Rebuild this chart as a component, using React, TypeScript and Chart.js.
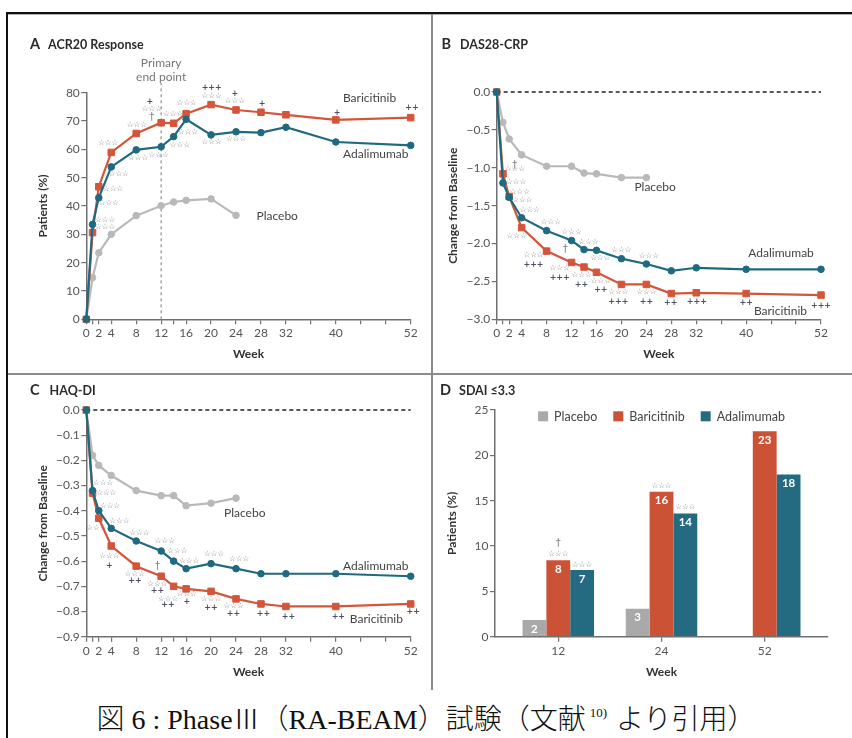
import React, { useEffect, useRef } from "react";
import { Chart, registerables } from "chart.js";
Chart.register(...registerables);

// ---------- data ----------
const WEEKS = [0, 1, 2, 4, 8, 12, 14, 16, 20, 24, 28, 32, 40, 52];
const PLACEBO_WEEKS = [0, 1, 2, 4, 8, 12, 14, 16, 20, 24];
const WEEK_TICKS = [0, 1, 2, 4, 8, 12, 14, 16, 20, 24, 28, 32, 36, 40, 44, 48, 52];
const WEEK_LABELS = [0, 2, 4, 8, 12, 16, 20, 24, 28, 32, 40, 52];

const acrBaricitinib = [0, 30.6, 46.8, 58.9, 65.6, 69.4, 69.2, 72.6, 75.8, 73.9, 73.1, 72.2, 70.4, 71.2];
const acrAdalimumab = [0, 33.5, 42.9, 53.8, 59.8, 60.9, 64.5, 70.6, 65.1, 66.2, 65.9, 67.8, 62.6, 61.4];
const acrPlacebo = [0, 14.7, 23.5, 30.0, 36.6, 40.1, 41.4, 42.0, 42.5, 36.7];
const acrTicks = [0, 10, 20, 30, 40, 50, 60, 70, 80];

const dasBaricitinib = [0, -1.08, -1.38, -1.79, -2.1, -2.25, -2.31, -2.38, -2.54, -2.54, -2.66, -2.65, -2.66, -2.68];
const dasAdalimumab = [0, -1.2, -1.39, -1.66, -1.83, -1.96, -2.08, -2.09, -2.2, -2.27, -2.36, -2.32, -2.34, -2.34];
const dasPlacebo = [0, -0.4, -0.62, -0.83, -0.98, -0.98, -1.07, -1.08, -1.13, -1.13];
const dasTicks = [0, -0.5, -1, -1.5, -2, -2.5, -3];

const haqBaricitinib = [0, -0.33, -0.43, -0.54, -0.62, -0.66, -0.7, -0.71, -0.72, -0.75, -0.77, -0.78, -0.78, -0.77];
const haqAdalimumab = [0, -0.32, -0.4, -0.47, -0.52, -0.56, -0.6, -0.63, -0.61, -0.63, -0.65, -0.65, -0.65, -0.66];
const haqPlacebo = [0, -0.18, -0.22, -0.26, -0.32, -0.34, -0.34, -0.38, -0.37, -0.35];
const haqTicks = [0, -0.1, -0.2, -0.3, -0.4, -0.5, -0.6, -0.7, -0.8, -0.9];

const sdaiWeeks = ["12", "24", "52"];
const sdaiPlacebo = [1.84, 3.09, null];
const sdaiBaricitinib = [8.42, 15.99, 22.65];
const sdaiAdalimumab = [7.35, 13.6, 17.9];
const sdaiPlaceboLabels = ["2", "3", ""];
const sdaiBaricitinibLabels = ["8", "16", "23"];
const sdaiAdalimumabLabels = ["7", "14", "18"];
const sdaiTicks = [0, 5, 10, 15, 20, 25];

// annotations: [week, value, text, kind]
type Note = [number, number, string, string];
const notesA: Note[] = [
  [3.0, 35.0, "***", "s"], [3.0, 32.6, "***", "s"], [3.6, 41.0, "***", "s"], [4.3, 46.0, "***", "s"],
  [5.2, 51.3, "***", "s"], [3.5, 62.2, "***", "s"], [8.3, 57.0, "***", "s"], [8.1, 68.6, "***", "s"],
  [11.6, 58.0, "***", "s"], [10.2, 76.7, "+", "p"], [10.5, 74.2, "***", "s"], [10.5, 71.4, "†", "d"],
  [13.9, 72.5, "***", "s"], [15.0, 61.5, "***", "s"], [16.1, 76.4, "***", "s"], [16.3, 66.2, "***", "s"],
  [20.1, 81.7, "+++", "p"], [20.1, 78.8, "***", "s"], [20.1, 62.6, "***", "s"], [23.8, 79.5, "+", "p"],
  [23.8, 77.0, "***", "s"], [24.0, 63.7, "***", "s"], [28.2, 76.0, "+", "p"], [40.2, 72.8, "+", "p"],
  [52.2, 74.6, "++", "p"],
  [45.4, 78.1, "Baricitinib", "l"], [46.4, 58.4, "Adalimumab", "l"], [30.6, 36.5, "Placebo", "l"],
  [12, 90.5, "Primary", "t"], [12, 85.5, "end point", "t"],
];
const notesB: Note[] = [
  [2.9, -1.02, "***", "s"], [2.9, -0.97, "†", "d"], [3.1, -1.19, "***", "s"], [3.7, -1.32, "***", "s"],
  [4.1, -1.43, "***", "s"], [5.3, -1.56, "***", "s"], [8.7, -1.71, "***", "s"], [3.2, -1.9, "***", "s"],
  [12.0, -1.85, "***", "s"], [5.9, -2.15, "***", "s"], [5.9, -2.28, "+++", "p"], [11.0, -2.08, "†", "d"],
  [14.7, -1.98, "***", "s"], [16.6, -2.19, "***", "s"], [10.1, -2.33, "***", "s"], [10.1, -2.46, "+++", "p"],
  [13.6, -2.42, "***", "s"], [13.6, -2.55, "++", "p"], [16.7, -2.49, "***", "s"], [16.7, -2.61, "++", "p"],
  [20.0, -2.08, "***", "s"], [19.5, -2.64, "***", "s"], [19.5, -2.77, "+++", "p"], [24.4, -2.16, "***", "s"],
  [24.0, -2.64, "***", "s"], [24.0, -2.77, "++", "p"], [27.9, -2.78, "++", "p"], [32.1, -2.77, "+++", "p"],
  [40.0, -2.78, "++", "p"], [52.0, -2.82, "+++", "p"],
  [45.6, -2.12, "Adalimumab", "l"], [45.5, -2.89, "Baricitinib", "l"], [25.4, -1.26, "Placebo", "l"],
];
const notesC: Note[] = [
  [2.7, -0.29, "***", "s"], [3.2, -0.33, "***", "s"], [3.8, -0.38, "***", "s"], [5.3, -0.44, "***", "s"],
  [1.6, -0.47, "***", "s"], [8.5, -0.49, "***", "s"], [3.7, -0.58, "***", "s"], [3.7, -0.62, "+", "p"],
  [12.6, -0.52, "***", "s"], [14.6, -0.56, "***", "s"], [16.5, -0.6, "***", "s"], [11.4, -0.62, "†", "d"],
  [7.8, -0.65, "***", "s"], [7.8, -0.68, "++", "p"], [11.4, -0.69, "***", "s"], [11.4, -0.72, "++", "p"],
  [13.1, -0.75, "***", "s"], [13.1, -0.775, "++", "p"], [16.1, -0.73, "***", "s"], [16.1, -0.76, "+", "p"],
  [20.5, -0.57, "***", "s"], [20.0, -0.75, "***", "s"], [20.0, -0.785, "++", "p"], [24.5, -0.59, "***", "s"],
  [23.6, -0.78, "***", "s"], [23.6, -0.81, "++", "p"], [28.4, -0.81, "++", "p"], [32.4, -0.82, "++", "p"],
  [40.4, -0.82, "++", "p"], [52.4, -0.8, "++", "p"],
  [46.4, -0.62, "Adalimumab", "l"], [46.5, -0.83, "Baricitinib", "l"], [25.4, -0.41, "Placebo", "l"],
];
// [datasetIndex, categoryIndex, value, text, kind]
const notesD: [number, number, number, string, string][] = [
  [1, 0, 10.3, "†", "d"], [1, 0, 9.1, "***", "s"], [2, 0, 7.9, "***", "s"],
  [1, 1, 16.6, "***", "s"], [2, 1, 14.3, "***", "s"],
];

// ---------- styles ----------
const FONT = "Lato";
const AXIS = "#707070";
const TICK_TXT = "#555555";
const RED = "#d4553a";
const TEAL = "#1f6a80";
const GREY = "#b9b9b9";
const BAR_GREY = "#a9a9a9";
const BAR_RED = "#cc5236";
const BAR_TEAL = "#246b82";

const NOTE_STYLE: Record<string, { font: string; color: string }> = {
  s: { font: '7.5px "DejaVu Sans"', color: "#767676" },
  p: { font: 'bold 8px "DejaVu Sans"', color: "#4b5163" },
  d: { font: '10px "DejaVu Sans"', color: "#7e7e7e" },
  l: { font: "12px Lato", color: "#444444" },
  t: { font: "12px Lato", color: "#777777" },
};

function drawNote(ctx: CanvasRenderingContext2D, x: number, y: number, text: string, kind: string) {
  const st = NOTE_STYLE[kind];
  ctx.font = st.font;
  ctx.fillStyle = st.color;
  ctx.textAlign = "center";
  ctx.textBaseline = "middle";
  ctx.fillText(kind === "s" ? text.replace(/\*/g, "☆") : text, x, y);
}

function notesPlugin(notes: Note[]) {
  return {
    id: "notes",
    afterDatasetsDraw(chart: any) {
      const { ctx, scales } = chart;
      ctx.save();
      for (const [wx, vy, text, kind] of notes) {
        drawNote(ctx, scales.x.getPixelForValue(wx), scales.y.getPixelForValue(vy), text, kind);
      }
      ctx.restore();
    },
  };
}

function pts(xs: number[], ys: (number | null)[]) {
  return xs.map((x, i) => ({ x, y: ys[i] }));
}

type Area = { top: number; right: number; yW: number; xH: number; yTitlePad: number; xTitlePad: number };

function axisCommon() {
  return {
    grid: { drawOnChartArea: false, drawTicks: true, tickLength: 5, color: AXIS, lineWidth: 1.2, offset: false },
    border: { display: true, color: AXIS, width: 1.5 },
  };
}

function lineConfig(s: {
  bari: number[]; ada: number[]; plac: number[];
  yMin: number; yMax: number; yTicks: number[]; yFmt: (v: number) => string; yTitle: string;
  notes: Note[]; guide: { x: number; y: number }[]; guideColor: string; guideDash: number[]; area: Area;
}) {
  const datasets: any[] = [
    { label: "Adalimumab", data: pts(WEEKS, s.ada), borderColor: TEAL, backgroundColor: TEAL, pointStyle: "circle", pointRadius: 3.3, pointBorderWidth: 1, borderWidth: 2.2, clip: false },
    { label: "Baricitinib", data: pts(WEEKS, s.bari), borderColor: RED, backgroundColor: RED, pointStyle: "rect", pointRadius: 4.6, pointBorderWidth: 1, borderWidth: 2.2, clip: false },
    { label: "Placebo", data: pts(PLACEBO_WEEKS, s.plac), borderColor: GREY, backgroundColor: GREY, pointStyle: "circle", pointRadius: 3.3, pointBorderWidth: 1, borderWidth: 2.2, clip: false },
    { label: "guide", data: s.guide, borderColor: s.guideColor, borderDash: s.guideDash, pointRadius: 0, borderWidth: 1.3, clip: false },
  ];
  const a = s.area;
  return {
    type: "line" as const,
    data: { datasets },
    options: {
      responsive: false,
      animation: false as const,
      events: [],
      layout: { padding: { left: 0, top: a.top, right: a.right, bottom: 0 } },
      plugins: { legend: { display: false }, tooltip: { enabled: false }, title: { display: false } },
      scales: {
        x: {
          type: "linear" as const, min: 0, max: 52, bounds: "data" as const, offset: false,
          afterBuildTicks: (sc: any) => { sc.ticks = WEEK_TICKS.map((v) => ({ value: v })); },
          afterFit: (sc: any) => { sc.height = a.xH; },
          ticks: { autoSkip: false, maxRotation: 0, padding: 2, color: TICK_TXT, font: { family: FONT, size: 12 },
            callback: (v: any) => (WEEK_LABELS.includes(v) ? String(v) : "") },
          ...axisCommon(),
          title: { display: true, text: "Week", color: "#333", font: { family: FONT, size: 12, weight: "bold" as const }, padding: { top: 0, bottom: a.xTitlePad } },
        },
        y: {
          type: "linear" as const, min: s.yMin, max: s.yMax, bounds: "data" as const,
          afterBuildTicks: (sc: any) => { sc.ticks = s.yTicks.map((v) => ({ value: v })); },
          afterFit: (sc: any) => { sc.width = a.yW; },
          ticks: { autoSkip: false, padding: 1.5, color: TICK_TXT, font: { family: FONT, size: 12 }, callback: (v: any) => s.yFmt(v) },
          ...axisCommon(),
          title: { display: true, text: s.yTitle, color: "#333", font: { family: FONT, size: 12, weight: "bold" as const }, padding: { top: a.yTitlePad, bottom: 0 } },
        },
      },
    },
    plugins: [notesPlugin(s.notes)],
  };
}

const fmtNeg = (d: number) => (v: number) => (v < 0 ? "\u2212" + Math.abs(v).toFixed(d) : v.toFixed(d));

function barConfig(area: Area) {
  const labelsByDs = [sdaiPlaceboLabels, sdaiBaricitinibLabels, sdaiAdalimumabLabels];
  const barLabels = {
    id: "barLabels",
    afterDatasetsDraw(chart: any) {
      const { ctx, scales } = chart;
      ctx.save();
      labelsByDs.forEach((labels, di) => {
        const meta = chart.getDatasetMeta(di);
        meta.data.forEach((el: any, i: number) => {
          if (!labels[i]) return;
          ctx.font = "bold 11.5px Lato";
          ctx.fillStyle = "#ffffff";
          ctx.textAlign = "center";
          ctx.textBaseline = "middle";
          ctx.fillText(labels[i], el.x, el.y + 9);
        });
      });
      for (const [di, i, v, text, kind] of notesD) {
        const el = chart.getDatasetMeta(di).data[i];
        drawNote(ctx, el.x, scales.y.getPixelForValue(v), text, kind);
      }
      ctx.restore();
    },
  };
  const legendPlugin = {
    id: "insideLegend",
    afterDraw(chart: any) {
      const { ctx, chartArea } = chart;
      const items = chart.data.datasets.map((d: any) => ({ label: d.label, color: d.backgroundColor }));
      ctx.save();
      ctx.font = "12.5px Lato";
      const box = 10, gap = 6, spacing = 16;
      const widths = items.map((it: any) => box + gap + ctx.measureText(it.label).width);
      const total = widths.reduce((p: number, c: number) => p + c, 0) + spacing * (items.length - 1);
      let x = (chartArea.left + chartArea.right) / 2 - total / 2;
      const y = chartArea.top + 6.3;
      items.forEach((it: any, i: number) => {
        ctx.fillStyle = it.color;
        ctx.fillRect(x, y - box / 2, box, box);
        ctx.fillStyle = "#444";
        ctx.textAlign = "left";
        ctx.textBaseline = "middle";
        ctx.fillText(it.label, x + box + gap, y + 0.5);
        x += widths[i] + spacing;
      });
      ctx.restore();
    },
  };
  return {
    type: "bar" as const,
    data: {
      datasets: [
        { label: "Placebo", data: pts([0, 1, 2], sdaiPlacebo), backgroundColor: BAR_GREY },
        { label: "Baricitinib", data: pts([0, 1, 2], sdaiBaricitinib), backgroundColor: BAR_RED },
        { label: "Adalimumab", data: pts([0, 1, 2], sdaiAdalimumab), backgroundColor: BAR_TEAL },
      ],
    },
    options: {
      responsive: false,
      animation: false as const,
      events: [],
      layout: { padding: { left: 0, top: area.top, right: area.right, bottom: 0 } },
      datasets: { bar: { categoryPercentage: 0.693, barPercentage: 1 } },
      plugins: { legend: { display: false }, tooltip: { enabled: false }, title: { display: false } },
      scales: {
        x: {
          type: "linear" as const, min: -0.613, max: 2.613, bounds: "data" as const, offset: false,
          afterBuildTicks: (sc: any) => { sc.ticks = sdaiWeeks.map((_, i) => ({ value: i })); },
          afterFit: (sc: any) => { sc.height = area.xH; },
          ticks: { autoSkip: false, maxRotation: 0, padding: 2, color: TICK_TXT, font: { family: FONT, size: 12 },
            callback: (v: any) => sdaiWeeks[v] ?? "" },
          ...axisCommon(),
          title: { display: true, text: "Week", color: "#333", font: { family: FONT, size: 12, weight: "bold" as const }, padding: { top: 0, bottom: area.xTitlePad } },
        },
        y: {
          type: "linear" as const, min: 0, max: 25, bounds: "data" as const,
          afterBuildTicks: (sc: any) => { sc.ticks = sdaiTicks.map((v) => ({ value: v })); },
          afterFit: (sc: any) => { sc.width = area.yW; },
          ticks: { autoSkip: false, padding: 1.5, color: TICK_TXT, font: { family: FONT, size: 12 }, callback: (v: any) => String(v) },
          ...axisCommon(),
          title: { display: true, text: "Patients (%)", color: "#333", font: { family: FONT, size: 12, weight: "bold" as const }, padding: { top: area.yTitlePad, bottom: 0 } },
        },
      },
    },
    plugins: [barLabels, legendPlugin],
  };
}

const abs = (left: number, top: number, extra: React.CSSProperties = {}): React.CSSProperties => ({ position: "absolute", left, top, ...extra });

function PanelTitle({ left, top, letter, text, gap }: { left: number; top: number; letter: string; text: string; gap: number }) {
  return (
    <div style={abs(left, top, { fontFamily: FONT, fontWeight: 700, fontSize: 12.5, lineHeight: "16px", color: "#2b2b2b", whiteSpace: "nowrap" })}>
      <span style={{ fontSize: 14.5, marginRight: gap }}>{letter}</span>
      {text}
    </div>
  );
}

export default function App() {
  const aRef = useRef<HTMLCanvasElement>(null);
  const bRef = useRef<HTMLCanvasElement>(null);
  const cRef = useRef<HTMLCanvasElement>(null);
  const dRef = useRef<HTMLCanvasElement>(null);

  useEffect(() => {
    const charts: Chart[] = [];
    charts.push(new Chart(aRef.current!, lineConfig({
      bari: acrBaricitinib, ada: acrAdalimumab, plac: acrPlacebo,
      yMin: 0, yMax: 80, yTicks: acrTicks, yFmt: (v) => String(v), yTitle: "Patients (%)",
      notes: notesA, guide: [{ x: 12, y: 0 }, { x: 12, y: 83.4 }], guideColor: "#9a9a9a", guideDash: [3, 3],
      area: { top: 72.7, right: 13.3, yW: 72.3, xH: 50.7, yTitlePad: 21.5, xTitlePad: 8.8 },
    }) as any));
    charts.push(new Chart(bRef.current!, lineConfig({
      bari: dasBaricitinib, ada: dasAdalimumab, plac: dasPlacebo,
      yMin: -3, yMax: 0, yTicks: dasTicks, yFmt: fmtNeg(1), yTitle: "Change from Baseline",
      notes: notesB, guide: [{ x: 0, y: 0 }, { x: 52, y: 0 }], guideColor: "#222", guideDash: [4, 3],
      area: { top: 72, right: 27, yW: 60.7, xH: 50.7, yTitlePad: 9.8, xTitlePad: 8.8 },
    }) as any));
    charts.push(new Chart(cRef.current!, lineConfig({
      bari: haqBaricitinib, ada: haqAdalimumab, plac: haqPlacebo,
      yMin: -0.9, yMax: 0, yTicks: haqTicks, yFmt: fmtNeg(1), yTitle: "Change from Baseline",
      notes: notesC, guide: [{ x: 0, y: 0 }, { x: 52, y: 0 }], guideColor: "#222", guideDash: [4, 3],
      area: { top: 35, right: 13.3, yW: 72.3, xH: 53.3, yTitlePad: 22.1, xTitlePad: 11.1 },
    }) as any));
    charts.push(new Chart(dRef.current!, barConfig({ top: 35, right: 20, yW: 59, xH: 53.3, yTitlePad: 8.5, xTitlePad: 11.1 }) as any));
    return () => charts.forEach((c) => c.destroy());
  }, []);

  return (
    <div style={abs(0, 0, { width: 852, height: 738, background: "#fff", overflow: "hidden" })}>
      <div style={abs(6, 12, { width: 2, height: 726, background: "#111" })} />
      <div style={abs(6, 12, { width: 846, height: 2, background: "#111" })} />
      <div style={abs(8, 14, { width: 844, height: 1, background: "#b0b0b0" })} />
      <div style={abs(431, 14, { width: 2, height: 676, background: "#8c8c8c" })} />
      <div style={abs(8, 373, { width: 844, height: 2, background: "#8c8c8c" })} />

      <canvas ref={aRef} width={410} height={350} style={abs(14, 20)} />
      <canvas ref={bRef} width={412} height={350} style={abs(436, 20)} />
      <canvas ref={cRef} width={410} height={315} style={abs(14, 375)} />
      <canvas ref={dRef} width={412} height={315} style={abs(436, 375)} />

      <PanelTitle left={30} top={36} letter="A" text="ACR20 Response" gap={8} />
      <PanelTitle left={441.5} top={36} letter="B" text="DAS28-CRP" gap={9} />
      <PanelTitle left={30} top={382} letter="C" text="HAQ-DI" gap={10} />
      <PanelTitle left={440} top={382} letter="D" text="SDAI ≤3.3" gap={8} />

      <div style={abs(0, 702, { width: 852, textAlign: "center", fontFamily: '"Liberation Serif", "Noto Sans CJK JP", serif', fontSize: 28, fontWeight: 300, lineHeight: "35px", color: "#111", whiteSpace: "nowrap" })}>
        図 6 : PhaseⅢ（RA-BEAM）試験（文献<sup style={{ fontSize: 13, verticalAlign: "top", lineHeight: "22px", marginLeft: 4, marginRight: 2 }}>10)</sup> より引用）
      </div>
    </div>
  );
}
